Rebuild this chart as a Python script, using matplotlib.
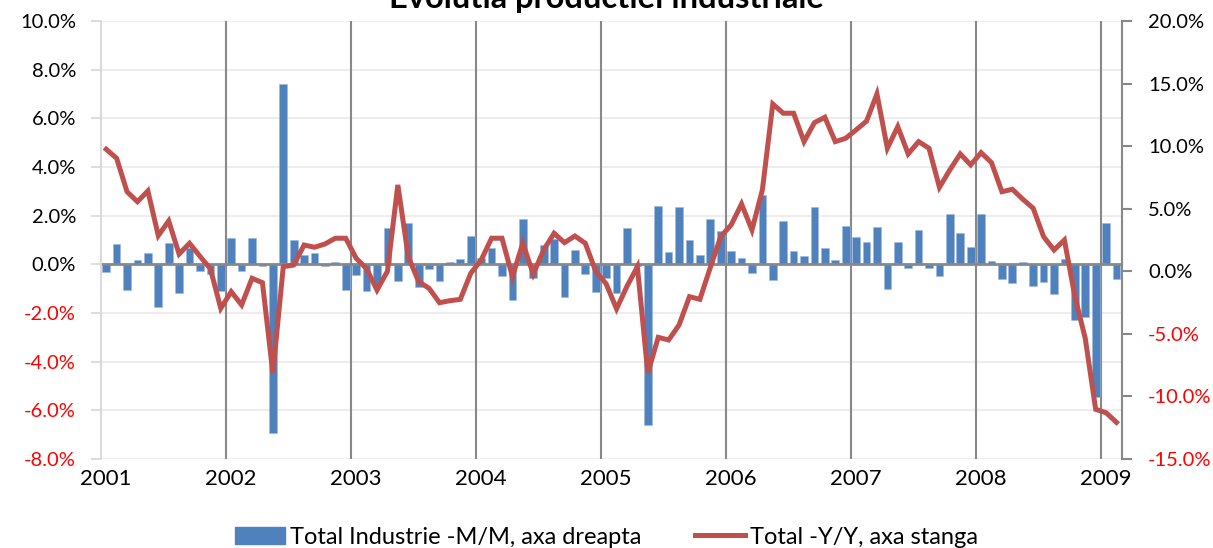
import matplotlib
matplotlib.use("Agg")
import matplotlib.pyplot as plt
import numpy as np
from matplotlib.patches import Patch
from matplotlib.lines import Line2D

plt.rcParams["font.family"] = ["Lato", "DejaVu Sans"]

# monthly data, Jan 2001 .. Feb 2009
years = ["2001", "2002", "2003", "2004", "2005", "2006", "2007", "2008", "2009"]

mm = [-0.30, 0.85, -1.06, 0.18, 0.48, -1.77, 0.88, -1.18, 0.66, -0.28, -0.41, -1.10,
      1.09, -0.28, 1.08, -0.07, -6.92, 7.42, 1.00, 0.38, 0.48, -0.05, 0.08, -1.06,
      -0.45, -1.08, -0.85, 1.49, -0.68, 1.68, -0.95, -0.19, -0.69, 0.08, 0.20, 1.18,
      0.27, 0.67, -0.47, -1.48, 1.87, -0.58, 0.78, 1.03, -1.36, 0.59, -0.39, -1.15,
      -0.55, -1.18, 1.50, -0.05, -6.60, 2.41, 0.50, 2.34, 1.00, 0.38, 1.86, 1.36,
      0.56, 0.27, -0.37, 2.85, -0.65, 1.77, 0.55, 0.34, 2.34, 0.68, 0.16, 1.57,
      1.11, 0.93, 1.52, -1.01, 0.92, -0.16, 1.41, -0.14, -0.48, 2.05, 1.29, 0.70,
      2.05, 0.12, -0.62, -0.78, 0.10, -0.88, -0.71, -1.21, 0.23, -2.28, -2.17, -5.44,
      1.70, -0.62]

yy = [9.75, 9.03, 6.36, 5.56, 6.42, 2.85, 4.02, 1.38, 2.24, 1.2, 0.2, -2.96,
      -1.63, -2.69, -0.56, -0.91, -8.15, 0.37, 0.5, 2.1, 1.92, 2.18, 2.64, 2.64,
      1.04, 0.2, -1.5, 0.0, 6.9, 1.17, -0.83, -1.36, -2.51, -2.35, -2.24, -0.16,
      0.9, 2.64, 2.64, -0.43, 2.24, -0.22, 1.7, 3.04, 2.29, 2.82, 2.24, 0.0,
      -1.0, -3.0, -1.2, 0.37, -8.15, -5.28, -5.49, -4.29, -2.03, -2.24, 0.3, 2.77,
      3.7, 5.38, 3.3, 6.5, 13.37, 12.63, 12.63, 10.36, 11.88, 12.31, 10.36, 10.63,
      11.3, 12.0, 14.17, 9.83, 11.56, 9.38, 10.36, 9.83, 6.71, 8.1, 9.38, 8.5,
      9.48, 8.68, 6.36, 6.55, 5.76, 5.04, 2.77, 1.7, 2.5, -2.0, -5.36, -11.03,
      -11.3, -12.07]

BLUE = "#4F81BD"
RED = "#C0504D"
FS = 14.5

x = np.arange(len(mm))

fig = plt.figure(figsize=(12.13, 5.48), dpi=100)
ax = fig.add_axes([101 / 1213, 1 - 459 / 548, (1121.7 - 101) / 1213, 438 / 548])
ax2 = ax.twinx()

ax.set_xlim(-0.5, len(mm) - 0.5)
ax.set_ylim(-8, 10)
ax2.set_ylim(-15, 20)

# grid
for v in np.arange(-8, 10.1, 2):
    ax.axhline(v, color="#EDEDED", lw=1.4, zorder=0)
for k in range(1, len(years)):
    ax.axvline(12 * k - 0.5, color="#888888", lw=1.5, zorder=0.5)

ax.bar(x, mm, width=0.74, color=BLUE, edgecolor="#9DB9DD", linewidth=0.4, zorder=2)
ax.axhline(0, color="#888888", lw=2, zorder=2.5)
ax2.plot(x, yy, color=RED, lw=3.6, solid_joinstyle="miter", zorder=3)

# x axis
ax.set_xticks([12 * k for k in range(len(years))])
ax.set_xticklabels(years, fontsize=16)
ax.tick_params(axis="x", length=0, pad=7)

# y axes
lt = np.arange(-8, 10.1, 2)
ax.set_yticks(lt)
ax.set_yticklabels([f"{v:.1f}%" for v in lt], fontsize=FS)
for lab, v in zip(ax.get_yticklabels(), lt):
    lab.set_color("#FF0000" if v < 0 else "black")
ax.tick_params(axis="y", length=7, color="#D9D9D9", width=1.3, pad=11)

rt = np.arange(-15, 20.1, 5)
ax2.set_yticks(rt)
ax2.set_yticklabels([f"{v:.1f}%" for v in rt], fontsize=FS)
for lab, v in zip(ax2.get_yticklabels(), rt):
    lab.set_color("#FF0000" if v < 0 else "black")
ax2.tick_params(axis="y", length=7, color="#888888", width=1.5, pad=12)

for a in (ax, ax2):
    for s in a.spines.values():
        s.set_visible(False)
ax.spines["left"].set_visible(True)
ax.spines["left"].set_color("#D9D9D9")
ax.spines["left"].set_linewidth(1.4)
ax2.spines["right"].set_visible(True)
ax2.spines["right"].set_color("#888888")
ax2.spines["right"].set_linewidth(1.5)

fig.text(0.5, 1 - 8 / 548, "Evolutia productiei industriale", ha="center",
         va="baseline", fontsize=23.5, fontweight="bold")

handles = [Patch(facecolor=BLUE, edgecolor=BLUE),
           Line2D([0], [0], color=RED, lw=3.6)]
fig.legend(handles, ["Total Industrie -M/M, axa dreapta", "Total -Y/Y, axa stanga"],
           loc="center", bbox_to_anchor=(0.5, 1 - 537 / 548), ncol=2, frameon=False,
           fontsize=17, handlelength=2.1, handleheight=0.75, handletextpad=0.2,
           columnspacing=2.3)

fig.savefig("out.png", dpi=100)
